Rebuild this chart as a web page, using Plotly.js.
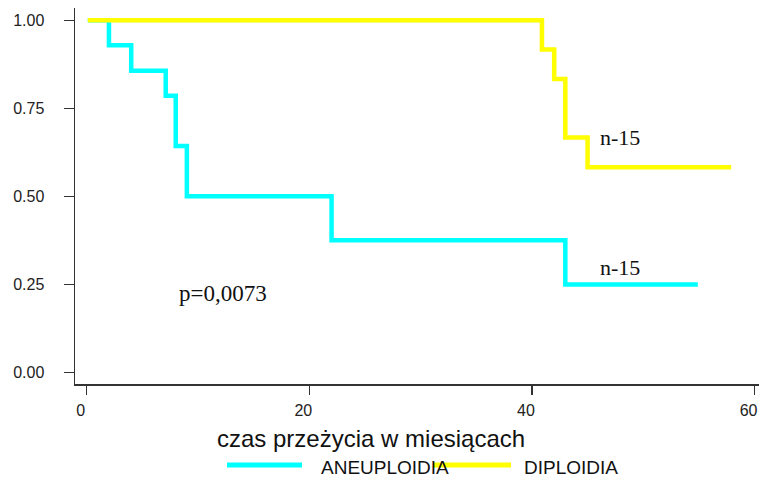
<!DOCTYPE html>
<html>
<head>
<meta charset="utf-8">
<script src="https://cdn.plot.ly/plotly-3.0.1.min.js"></script>
<style>html,body{margin:0;padding:0;background:#fff;}#chart{width:759px;height:479px;}</style>
</head>
<body>
<div id="chart"></div>
<script>
// Kaplan-Meier survival data
var aneuMonths = [0.1, 2.0, 4.0, 7.1, 8.0, 9.0, 22.0, 43.0, 54.9];
var aneuSurv   = [1.0, 0.929, 0.857, 0.786, 0.643, 0.5, 0.375, 0.25, 0.25];
var diplMonths = [0.1, 40.9, 42.0, 43.0, 45.0, 57.9];
var diplSurv   = [1.0, 0.917, 0.833, 0.667, 0.583, 0.583];
var seriesNames = ['ANEUPLOIDIA', 'DIPLOIDIA'];
var xTicks = [0, 20, 40, 60];
var yTicks = [0, 0.25, 0.5, 0.75, 1.0];
var xTitle = 'czas przeżycia w miesiącach';
var pText = 'p=0,0073';
var nText = 'n-15';

var W = 759, H = 479;
var ml = 75, mr = 0, mt = 8, mb = 95;
var pw = W - ml - mr, ph = H - mt - mb;
function px(x){ return (x - ml) / pw; }
function py(y){ return (H - mb - y) / ph; }

var cyan = '#00FFFF', yellow = '#FFFF00';
var axisCol = '#333333';

var traces = [
  {x: aneuMonths, y: aneuSurv, type: 'scatter', mode: 'lines', name: seriesNames[0],
   line: {shape: 'hv', color: cyan, width: 4.5}, showlegend: false},
  {x: diplMonths, y: diplSurv, type: 'scatter', mode: 'lines', name: seriesNames[1],
   line: {shape: 'hv', color: yellow, width: 4.5}, showlegend: false}
];

var serif = 'Liberation Serif, Times New Roman, serif';
var sans = 'Liberation Sans, Arial, sans-serif';

var layout = {
  width: W, height: H,
  margin: {l: ml, r: mr, t: mt, b: mb, pad: 0},
  paper_bgcolor: '#fff', plot_bgcolor: '#fff',
  showlegend: false,
  font: {family: sans, color: '#222'},
  xaxis: {
    range: [-1.05, 60.4], tickvals: xTicks, ticktext: xTicks.map(String),
    showgrid: false, zeroline: false, showline: true, linecolor: axisCol, linewidth: 1.5,
    ticks: 'outside', ticklen: 9, tickwidth: 1.5, tickcolor: axisCol,
    tickfont: {size: 16, family: sans, color: '#222'}, ticklabelshift: -6, ticklabelstandoff: 2
  },
  yaxis: {
    range: [-0.0329, 1.0349], tickvals: yTicks, ticktext: yTicks.map(function(v){return v.toFixed(2);}),
    showgrid: false, zeroline: false, showline: true, linecolor: axisCol, linewidth: 1.5,
    ticks: 'outside', ticklen: 10, tickwidth: 1.5, tickcolor: axisCol,
    tickfont: {size: 16, family: sans, color: '#222'}, ticklabelstandoff: 16
  },
  annotations: [
    {xref: 'paper', yref: 'paper', x: px(370.5), y: py(438), xanchor: 'center', yanchor: 'middle',
     text: xTitle, showarrow: false, font: {size: 24, family: sans, color: '#111'}},
    {xref: 'x', yref: 'y', x: 45.9, y: 0.667, xanchor: 'left', yanchor: 'middle',
     text: nText, showarrow: false, font: {size: 22, family: serif, color: '#111'}},
    {xref: 'x', yref: 'y', x: 45.9, y: 0.299, xanchor: 'left', yanchor: 'middle',
     text: nText, showarrow: false, font: {size: 22, family: serif, color: '#111'}},
    {xref: 'x', yref: 'y', x: 8.1, y: 0.225, xanchor: 'left', yanchor: 'middle',
     text: pText, showarrow: false, font: {size: 23, family: serif, color: '#111'}},
    {xref: 'paper', yref: 'paper', x: px(319), y: py(467), xanchor: 'left', yanchor: 'middle',
     text: seriesNames[0], showarrow: false, font: {size: 19, family: sans, color: '#111'}},
    {xref: 'paper', yref: 'paper', x: px(522), y: py(467), xanchor: 'left', yanchor: 'middle',
     text: seriesNames[1], showarrow: false, font: {size: 19, family: sans, color: '#111'}}
  ],
  shapes: [
    {type: 'line', xref: 'paper', yref: 'paper', x0: px(227), x1: px(302), y0: py(465), y1: py(465),
     line: {color: cyan, width: 5}},
    {type: 'line', xref: 'paper', yref: 'paper', x0: px(433), x1: px(511), y0: py(465), y1: py(465),
     line: {color: yellow, width: 5}}
  ]
};

Plotly.newPlot('chart', traces, layout, {staticPlot: true, displayModeBar: false});
</script>
</body>
</html>
